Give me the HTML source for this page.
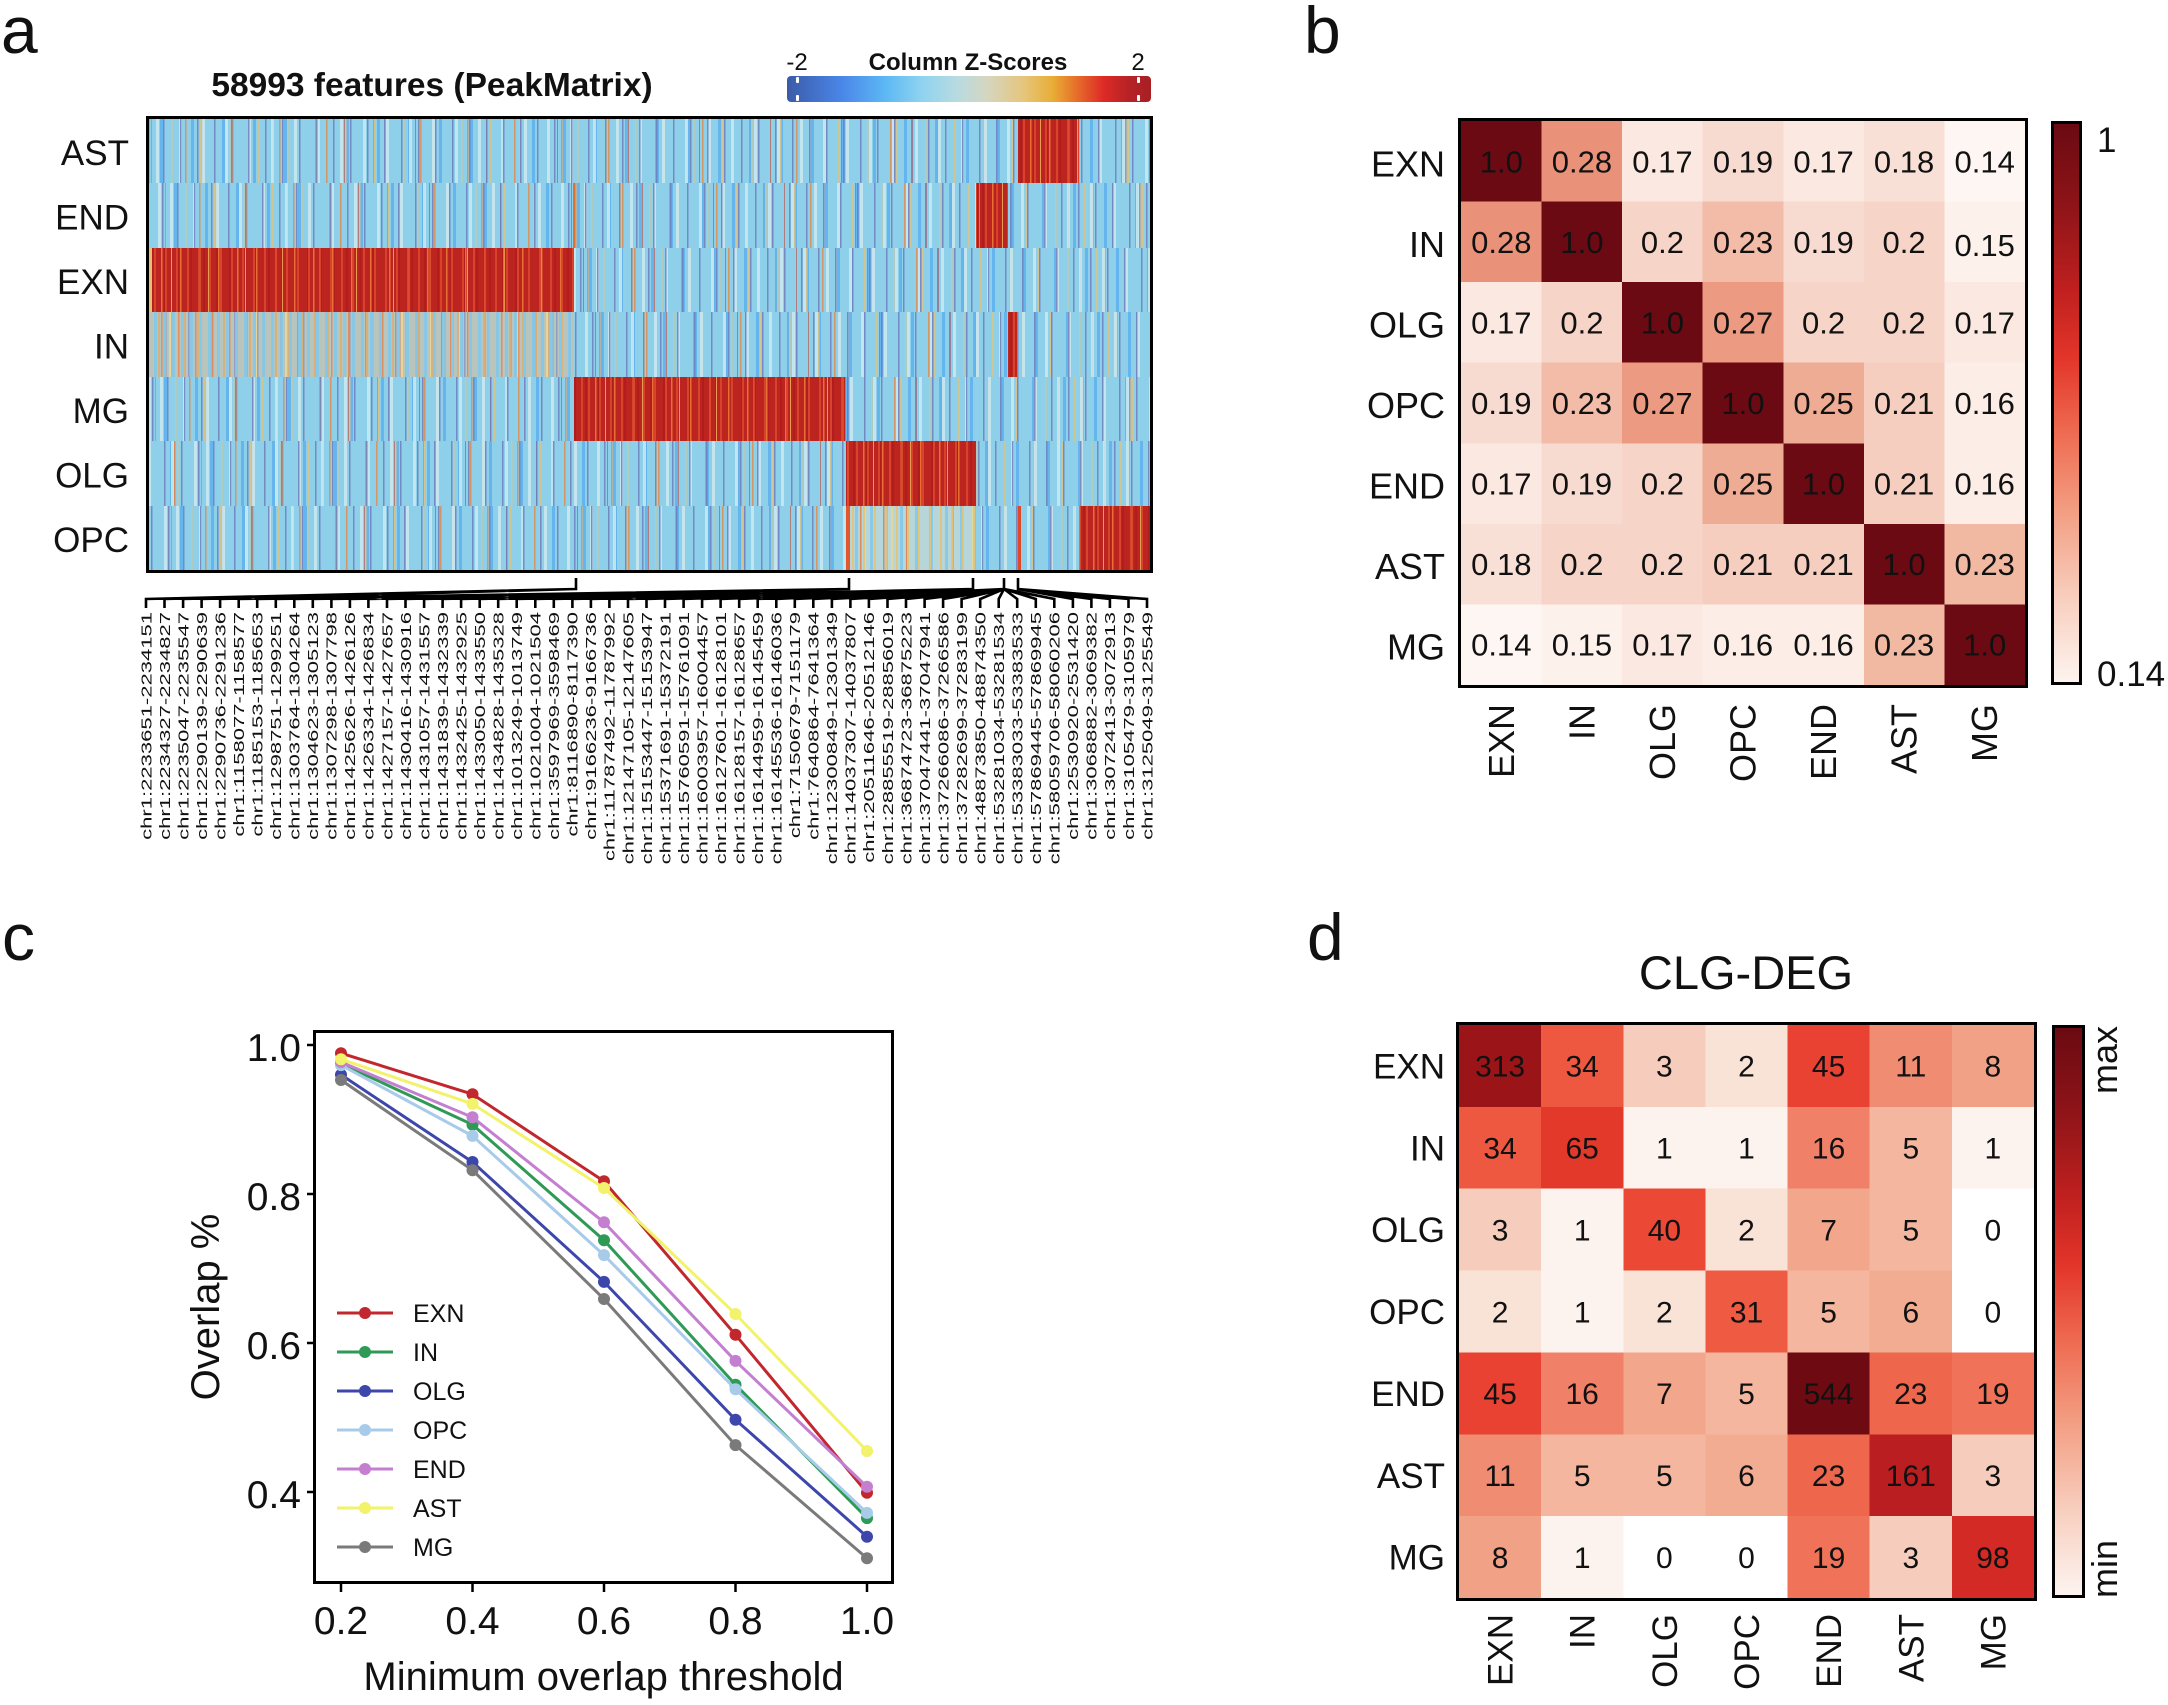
<!DOCTYPE html>
<html><head><meta charset="utf-8"><style>
html,body{margin:0;padding:0;background:#fff}
body{width:2168px;height:1705px;position:relative;overflow:hidden;font-family:"Liberation Sans",Arial,sans-serif}
.hm{position:absolute}
.bl{background-color:#8ecfea;background-image:
repeating-linear-gradient(90deg,transparent 0 11px,rgba(110,125,188,.85) 11px 12.5px,transparent 12.5px 17px),
repeating-linear-gradient(90deg,transparent 0 4px,rgba(200,232,240,.9) 4px 7px,transparent 7px 23px),
repeating-linear-gradient(90deg,transparent 0 19px,rgba(214,196,140,.9) 19px 20.5px,transparent 20.5px 29px),
repeating-linear-gradient(90deg,transparent 0 8px,rgba(96,178,238,.9) 8px 11px,transparent 11px 31px),
repeating-linear-gradient(90deg,transparent 0 33px,rgba(222,140,80,.85) 33px 34.5px,transparent 34.5px 47px),
repeating-linear-gradient(90deg,transparent 0 50px,rgba(190,90,80,.7) 50px 51.2px,transparent 51.2px 71px);}
.rd{background-color:#bc2420;background-image:
repeating-linear-gradient(90deg,transparent 0 5px,rgba(220,70,45,.9) 5px 7px,transparent 7px 11px),
repeating-linear-gradient(90deg,transparent 0 12px,rgba(240,125,55,.85) 12px 13.5px,transparent 13.5px 19px),
repeating-linear-gradient(90deg,transparent 0 22px,rgba(245,185,95,.8) 22px 23px,transparent 23px 37px),
repeating-linear-gradient(90deg,transparent 0 2px,rgba(170,25,25,.6) 2px 4px,transparent 4px 13px);}
.mx{background-color:#b8c4bc;background-image:
repeating-linear-gradient(90deg,transparent 0 5px,rgba(130,200,235,.9) 5px 8px,transparent 8px 9px),
repeating-linear-gradient(90deg,transparent 0 9px,rgba(215,175,120,.9) 9px 11px,transparent 11px 13px),
repeating-linear-gradient(90deg,transparent 0 12px,rgba(228,135,85,.85) 12px 13.5px,transparent 13.5px 17px),
repeating-linear-gradient(90deg,transparent 0 16px,rgba(140,150,195,.85) 16px 17.5px,transparent 17.5px 23px),
repeating-linear-gradient(90deg,transparent 0 20px,rgba(235,215,150,.9) 20px 22px,transparent 22px 29px);}
.my{background-color:#b6d6da;background-image:
repeating-linear-gradient(90deg,transparent 0 6px,rgba(226,196,120,.9) 6px 8px,transparent 8px 11px),
repeating-linear-gradient(90deg,transparent 0 9px,rgba(130,200,236,.9) 9px 12px,transparent 12px 15px),
repeating-linear-gradient(90deg,transparent 0 14px,rgba(226,122,66,.85) 14px 15.5px,transparent 15.5px 23px),
repeating-linear-gradient(90deg,transparent 0 18px,rgba(230,215,150,.9) 18px 20px,transparent 20px 27px);}
.cb{position:absolute;left:787px;top:76px;width:364px;height:26px;border-radius:4px;
background:linear-gradient(90deg,#3b5ba8 0%,#4a86e8 15%,#5cb8f4 27%,#8fd3f0 37%,#b9dbe0 47%,#d5d6c0 55%,#e6c57c 65%,#e8ad35 73%,#e66a2a 80%,#dd2a26 87%,#b52226 94%,#a82024 100%)}
.wt{position:absolute;width:3px;height:6px;background:#fff;border-radius:1px}
svg{position:absolute;left:0;top:0}
</style></head><body>

<!-- Panel a heatmap rows -->
<div class="hm bl" style="left:149px;top:119px;width:1001px;height:64px;background-position:3px 0"></div>
<div class="hm bl" style="left:149px;top:183px;width:1001px;height:65px;background-position:17px 0"></div>
<div class="hm bl" style="left:149px;top:248px;width:1001px;height:64px;background-position:29px 0"></div>
<div class="hm bl" style="left:149px;top:312px;width:1001px;height:65px;background-position:41px 0"></div>
<div class="hm bl" style="left:149px;top:377px;width:1001px;height:64px;background-position:7px 0"></div>
<div class="hm bl" style="left:149px;top:441px;width:1001px;height:65px;background-position:53px 0"></div>
<div class="hm bl" style="left:149px;top:506px;width:1001px;height:64px;background-position:23px 0"></div>

<!-- red blocks -->
<div class="hm rd" style="left:1018px;top:119px;width:61px;height:64px"></div>
<div class="hm rd" style="left:976px;top:183px;width:32px;height:65px;background-position:4px 0"></div>
<div class="hm rd" style="left:149px;top:248px;width:425px;height:64px"></div>
<div class="hm mx" style="left:149px;top:312px;width:425px;height:65px"></div>
<div class="hm rd" style="left:1008px;top:312px;width:9px;height:65px"></div>
<div class="hm rd" style="left:574px;top:377px;width:271px;height:64px;background-position:9px 0"></div>
<div class="hm rd" style="left:846px;top:441px;width:130px;height:65px;background-position:5px 0"></div>
<div class="hm my" style="left:846px;top:506px;width:130px;height:64px"></div>
<div class="hm" style="left:846px;top:506px;width:4px;height:64px;background:#e0582c"></div>
<div class="hm" style="left:1018px;top:506px;width:3px;height:64px;background:#e0482a"></div>
<div class="hm rd" style="left:1079px;top:506px;width:71px;height:64px;background-position:2px 0"></div>
<div class="hm" style="left:149px;top:248px;width:3px;height:64px;background:#e8c070"></div>
<div class="hm" style="left:573px;top:183px;width:2px;height:65px;background:#e07030"></div>

<!-- colorbar a -->
<div class="cb"></div>
<div class="wt" style="left:796px;top:77px"></div>
<div class="wt" style="left:796px;top:95px"></div>
<div class="wt" style="left:1137px;top:77px"></div>
<div class="wt" style="left:1137px;top:95px"></div>

<svg width="2168" height="1705" viewBox="0 0 2168 1705" xmlns="http://www.w3.org/2000/svg" font-family="Liberation Sans, Arial, sans-serif" fill="#111">

<!-- ============ PANEL A ============ -->
<text x="1" y="53" font-size="66">a</text>
<text x="432" y="96" font-size="33.5" font-weight="bold" text-anchor="middle">58993 features (PeakMatrix)</text>
<text x="797" y="70" font-size="24" text-anchor="middle">-2</text>
<text x="968" y="70" font-size="24" font-weight="bold" text-anchor="middle">Column Z-Scores</text>
<text x="1138" y="70" font-size="24" text-anchor="middle">2</text>

<rect x="147.5" y="117.5" width="1004" height="454" fill="none" stroke="#000" stroke-width="3"/>

<g font-size="35" text-anchor="end">
<text x="129" y="165">AST</text>
<text x="129" y="229.5">END</text>
<text x="129" y="294">EXN</text>
<text x="129" y="358.5">IN</text>
<text x="129" y="423">MG</text>
<text x="129" y="487.5">OLG</text>
<text x="129" y="552">OPC</text>
</g>

<path fill="none" stroke="#000" stroke-width="2.6" d="
M576 578V589L146 599V608 M576 589L164.5 599V608 M576 589L183.1 599V608 M576 589L201.6 599V608 M576 589L220.1 599V608
M849 578V589L238.7 599V608 M849 589L257.2 599V608 M849 589L275.8 599V608 M849 589L294.3 599V608 M849 589L312.8 599V608
M849 589L331.4 599V608 M849 589L349.9 599V608 M849 589L368.4 599V608 M849 589L387 599V608 M849 589L405.5 599V608
M849 589L424.1 599V608 M849 589L442.6 599V608 M849 589L461.1 599V608 M849 589L479.7 599V608 M849 589L498.2 599V608
M973 578V589L516.7 599V608 M973 589L535.3 599V608 M973 589L553.8 599V608 M973 589L572.4 599V608 M973 589L590.9 599V608
M973 589L609.4 599V608 M973 589L628 599V608 M973 589L646.5 599V608 M973 589L665 599V608 M973 589L683.6 599V608
M973 589L702.1 599V608 M973 589L720.6 599V608 M973 589L739.2 599V608 M973 589L757.7 599V608 M973 589L776.3 599V608
M1004 578V589L794.8 599V608 M1004 589L813.3 599V608 M1004 589L831.9 599V608 M1004 589L850.4 599V608 M1004 589L868.9 599V608
M1004 589L887.5 599V608 M1004 589L906 599V608 M1004 589L924.6 599V608 M1004 589L943.1 599V608 M1004 589L961.6 599V608
M1004 589L980.2 599V608 M1004 589L998.7 599V608 M1004 589L1017.2 599V608 M1004 589L1035.8 599V608 M1004 589L1054.3 599V608
M1018 578V589L1072.9 599V608 M1018 589L1091.4 599V608 M1018 589L1109.9 599V608 M1018 589L1128.5 599V608 M1018 589L1147 599V608"/>

<g font-size="15" text-anchor="end">
<text transform="translate(151.3 612) rotate(-90) scale(1.47 1)">chr1:2233651-2234151</text>
<text transform="translate(169.8 612) rotate(-90) scale(1.47 1)">chr1:2234327-2234827</text>
<text transform="translate(188.4 612) rotate(-90) scale(1.47 1)">chr1:2235047-2235547</text>
<text transform="translate(206.9 612) rotate(-90) scale(1.47 1)">chr1:2290139-2290639</text>
<text transform="translate(225.4 612) rotate(-90) scale(1.47 1)">chr1:2290736-2291236</text>
<text transform="translate(244.0 612) rotate(-90) scale(1.47 1)">chr1:1158077-1158577</text>
<text transform="translate(262.5 612) rotate(-90) scale(1.47 1)">chr1:1185153-1185653</text>
<text transform="translate(281.1 612) rotate(-90) scale(1.47 1)">chr1:1298751-1299251</text>
<text transform="translate(299.6 612) rotate(-90) scale(1.47 1)">chr1:1303764-1304264</text>
<text transform="translate(318.1 612) rotate(-90) scale(1.47 1)">chr1:1304623-1305123</text>
<text transform="translate(336.7 612) rotate(-90) scale(1.47 1)">chr1:1307298-1307798</text>
<text transform="translate(355.2 612) rotate(-90) scale(1.47 1)">chr1:1425626-1426126</text>
<text transform="translate(373.7 612) rotate(-90) scale(1.47 1)">chr1:1426334-1426834</text>
<text transform="translate(392.3 612) rotate(-90) scale(1.47 1)">chr1:1427157-1427657</text>
<text transform="translate(410.8 612) rotate(-90) scale(1.47 1)">chr1:1430416-1430916</text>
<text transform="translate(429.4 612) rotate(-90) scale(1.47 1)">chr1:1431057-1431557</text>
<text transform="translate(447.9 612) rotate(-90) scale(1.47 1)">chr1:1431839-1432339</text>
<text transform="translate(466.4 612) rotate(-90) scale(1.47 1)">chr1:1432425-1432925</text>
<text transform="translate(485.0 612) rotate(-90) scale(1.47 1)">chr1:1433050-1433550</text>
<text transform="translate(503.5 612) rotate(-90) scale(1.47 1)">chr1:1434828-1435328</text>
<text transform="translate(522.0 612) rotate(-90) scale(1.47 1)">chr1:1013249-1013749</text>
<text transform="translate(540.6 612) rotate(-90) scale(1.47 1)">chr1:1021004-1021504</text>
<text transform="translate(559.1 612) rotate(-90) scale(1.47 1)">chr1:3597969-3598469</text>
<text transform="translate(577.7 612) rotate(-90) scale(1.47 1)">chr1:8116890-8117390</text>
<text transform="translate(596.2 612) rotate(-90) scale(1.47 1)">chr1:9166236-9166736</text>
<text transform="translate(614.7 612) rotate(-90) scale(1.47 1)">chr1:11787492-11787992</text>
<text transform="translate(633.3 612) rotate(-90) scale(1.47 1)">chr1:12147105-12147605</text>
<text transform="translate(651.8 612) rotate(-90) scale(1.47 1)">chr1:15153447-15153947</text>
<text transform="translate(670.3 612) rotate(-90) scale(1.47 1)">chr1:15371691-15372191</text>
<text transform="translate(688.9 612) rotate(-90) scale(1.47 1)">chr1:15760591-15761091</text>
<text transform="translate(707.4 612) rotate(-90) scale(1.47 1)">chr1:16003957-16004457</text>
<text transform="translate(725.9 612) rotate(-90) scale(1.47 1)">chr1:16127601-16128101</text>
<text transform="translate(744.5 612) rotate(-90) scale(1.47 1)">chr1:16128157-16128657</text>
<text transform="translate(763.0 612) rotate(-90) scale(1.47 1)">chr1:16144959-16145459</text>
<text transform="translate(781.6 612) rotate(-90) scale(1.47 1)">chr1:16145536-16146036</text>
<text transform="translate(800.1 612) rotate(-90) scale(1.47 1)">chr1:7150679-7151179</text>
<text transform="translate(818.6 612) rotate(-90) scale(1.47 1)">chr1:7640864-7641364</text>
<text transform="translate(837.2 612) rotate(-90) scale(1.47 1)">chr1:12300849-12301349</text>
<text transform="translate(855.7 612) rotate(-90) scale(1.47 1)">chr1:14037307-14037807</text>
<text transform="translate(874.2 612) rotate(-90) scale(1.47 1)">chr1:20511646-20512146</text>
<text transform="translate(892.8 612) rotate(-90) scale(1.47 1)">chr1:28855519-28856019</text>
<text transform="translate(911.3 612) rotate(-90) scale(1.47 1)">chr1:36874723-36875223</text>
<text transform="translate(929.9 612) rotate(-90) scale(1.47 1)">chr1:37047441-37047941</text>
<text transform="translate(948.4 612) rotate(-90) scale(1.47 1)">chr1:37266086-37266586</text>
<text transform="translate(966.9 612) rotate(-90) scale(1.47 1)">chr1:37282699-37283199</text>
<text transform="translate(985.5 612) rotate(-90) scale(1.47 1)">chr1:48873850-48874350</text>
<text transform="translate(1004.0 612) rotate(-90) scale(1.47 1)">chr1:53281034-53281534</text>
<text transform="translate(1022.5 612) rotate(-90) scale(1.47 1)">chr1:53383033-53383533</text>
<text transform="translate(1041.1 612) rotate(-90) scale(1.47 1)">chr1:57869445-57869945</text>
<text transform="translate(1059.6 612) rotate(-90) scale(1.47 1)">chr1:58059706-58060206</text>
<text transform="translate(1078.2 612) rotate(-90) scale(1.47 1)">chr1:2530920-2531420</text>
<text transform="translate(1096.7 612) rotate(-90) scale(1.47 1)">chr1:3068882-3069382</text>
<text transform="translate(1115.2 612) rotate(-90) scale(1.47 1)">chr1:3072413-3072913</text>
<text transform="translate(1133.8 612) rotate(-90) scale(1.47 1)">chr1:3105479-3105979</text>
<text transform="translate(1152.3 612) rotate(-90) scale(1.47 1)">chr1:3125049-3125549</text>
</g>

<!-- ============ PANEL B ============ -->
<text x="1304" y="53" font-size="66">b</text>
<g shape-rendering="crispEdges">
<rect x="1461" y="121" width="81.2" height="81.2" fill="#6b0a12"/>
<rect x="1541.6" y="121" width="81.2" height="81.2" fill="#ea9279"/>
<rect x="1622.1" y="121" width="81.2" height="81.2" fill="#fbe8e0"/>
<rect x="1702.7" y="121" width="81.2" height="81.2" fill="#f8dbd0"/>
<rect x="1783.3" y="121" width="81.2" height="81.2" fill="#fbe8e0"/>
<rect x="1863.9" y="121" width="81.2" height="81.2" fill="#f9e0d6"/>
<rect x="1944.4" y="121" width="80.6" height="81.2" fill="#fef6f3"/>

<rect x="1461" y="201.6" width="81.2" height="81.2" fill="#ea9279"/>
<rect x="1541.6" y="201.6" width="81.2" height="81.2" fill="#6b0a12"/>
<rect x="1622.1" y="201.6" width="81.2" height="81.2" fill="#f6d4c7"/>
<rect x="1702.7" y="201.6" width="81.2" height="81.2" fill="#f2bca8"/>
<rect x="1783.3" y="201.6" width="81.2" height="81.2" fill="#f8dbd0"/>
<rect x="1863.9" y="201.6" width="81.2" height="81.2" fill="#f6d4c7"/>
<rect x="1944.4" y="201.6" width="80.6" height="81.2" fill="#fdf1ec"/>

<rect x="1461" y="282.1" width="81.2" height="81.2" fill="#fbe8e0"/>
<rect x="1541.6" y="282.1" width="81.2" height="81.2" fill="#f6d4c7"/>
<rect x="1622.1" y="282.1" width="81.2" height="81.2" fill="#6b0a12"/>
<rect x="1702.7" y="282.1" width="81.2" height="81.2" fill="#ec9b82"/>
<rect x="1783.3" y="282.1" width="81.2" height="81.2" fill="#f6d4c7"/>
<rect x="1863.9" y="282.1" width="81.2" height="81.2" fill="#f6d4c7"/>
<rect x="1944.4" y="282.1" width="80.6" height="81.2" fill="#fbe8e0"/>

<rect x="1461" y="362.7" width="81.2" height="81.2" fill="#f8dbd0"/>
<rect x="1541.6" y="362.7" width="81.2" height="81.2" fill="#f2bca8"/>
<rect x="1622.1" y="362.7" width="81.2" height="81.2" fill="#ec9b82"/>
<rect x="1702.7" y="362.7" width="81.2" height="81.2" fill="#6b0a12"/>
<rect x="1783.3" y="362.7" width="81.2" height="81.2" fill="#efac94"/>
<rect x="1863.9" y="362.7" width="81.2" height="81.2" fill="#f5cec0"/>
<rect x="1944.4" y="362.7" width="80.6" height="81.2" fill="#fcede7"/>

<rect x="1461" y="443.3" width="81.2" height="81.2" fill="#fbe8e0"/>
<rect x="1541.6" y="443.3" width="81.2" height="81.2" fill="#f8dbd0"/>
<rect x="1622.1" y="443.3" width="81.2" height="81.2" fill="#f6d4c7"/>
<rect x="1702.7" y="443.3" width="81.2" height="81.2" fill="#efac94"/>
<rect x="1783.3" y="443.3" width="81.2" height="81.2" fill="#6b0a12"/>
<rect x="1863.9" y="443.3" width="81.2" height="81.2" fill="#f5cec0"/>
<rect x="1944.4" y="443.3" width="80.6" height="81.2" fill="#fcede7"/>

<rect x="1461" y="523.9" width="81.2" height="81.2" fill="#f9e0d6"/>
<rect x="1541.6" y="523.9" width="81.2" height="81.2" fill="#f6d4c7"/>
<rect x="1622.1" y="523.9" width="81.2" height="81.2" fill="#f6d4c7"/>
<rect x="1702.7" y="523.9" width="81.2" height="81.2" fill="#f5cec0"/>
<rect x="1783.3" y="523.9" width="81.2" height="81.2" fill="#f5cec0"/>
<rect x="1863.9" y="523.9" width="81.2" height="81.2" fill="#6b0a12"/>
<rect x="1944.4" y="523.9" width="80.6" height="81.2" fill="#f2b9a2"/>

<rect x="1461" y="604.4" width="81.2" height="80.6" fill="#fef6f3"/>
<rect x="1541.6" y="604.4" width="81.2" height="80.6" fill="#fdf1ec"/>
<rect x="1622.1" y="604.4" width="81.2" height="80.6" fill="#fbe8e0"/>
<rect x="1702.7" y="604.4" width="81.2" height="80.6" fill="#fcede7"/>
<rect x="1783.3" y="604.4" width="81.2" height="80.6" fill="#fcede7"/>
<rect x="1863.9" y="604.4" width="81.2" height="80.6" fill="#f2b9a2"/>
<rect x="1944.4" y="604.4" width="80.6" height="80.6" fill="#6b0a12"/>
</g>
<rect x="1459.5" y="119.5" width="567" height="567" fill="none" stroke="#000" stroke-width="3"/>

<g font-size="31" text-anchor="middle">
<text x="1501.3" y="172.3">1.0</text><text x="1581.9" y="172.3">0.28</text><text x="1662.4" y="172.3">0.17</text><text x="1743" y="172.3">0.19</text><text x="1823.6" y="172.3">0.17</text><text x="1904.1" y="172.3">0.18</text><text x="1984.7" y="172.3">0.14</text>
<text x="1501.3" y="252.9">0.28</text><text x="1581.9" y="252.9">1.0</text><text x="1662.4" y="252.9">0.2</text><text x="1743" y="252.9">0.23</text><text x="1823.6" y="252.9">0.19</text><text x="1904.1" y="252.9">0.2</text><text x="1984.7" y="255.9">0.15</text>
<text x="1501.3" y="333.4">0.17</text><text x="1581.9" y="333.4">0.2</text><text x="1662.4" y="333.4">1.0</text><text x="1743" y="333.4">0.27</text><text x="1823.6" y="333.4">0.2</text><text x="1904.1" y="333.4">0.2</text><text x="1984.7" y="333.4">0.17</text>
<text x="1501.3" y="414">0.19</text><text x="1581.9" y="414">0.23</text><text x="1662.4" y="414">0.27</text><text x="1743" y="414">1.0</text><text x="1823.6" y="414">0.25</text><text x="1904.1" y="414">0.21</text><text x="1984.7" y="414">0.16</text>
<text x="1501.3" y="494.6">0.17</text><text x="1581.9" y="494.6">0.19</text><text x="1662.4" y="494.6">0.2</text><text x="1743" y="494.6">0.25</text><text x="1823.6" y="494.6">1.0</text><text x="1904.1" y="494.6">0.21</text><text x="1984.7" y="494.6">0.16</text>
<text x="1501.3" y="575.1">0.18</text><text x="1581.9" y="575.1">0.2</text><text x="1662.4" y="575.1">0.2</text><text x="1743" y="575.1">0.21</text><text x="1823.6" y="575.1">0.21</text><text x="1904.1" y="575.1">1.0</text><text x="1984.7" y="575.1">0.23</text>
<text x="1501.3" y="655.7">0.14</text><text x="1581.9" y="655.7">0.15</text><text x="1662.4" y="655.7">0.17</text><text x="1743" y="655.7">0.16</text><text x="1823.6" y="655.7">0.16</text><text x="1904.1" y="655.7">0.23</text><text x="1984.7" y="655.7">1.0</text>
</g>

<g font-size="36" text-anchor="end">
<text x="1445" y="176.5">EXN</text>
<text x="1445" y="257">IN</text>
<text x="1445" y="337.5">OLG</text>
<text x="1445" y="418">OPC</text>
<text x="1445" y="498.5">END</text>
<text x="1445" y="579">AST</text>
<text x="1445" y="659.5">MG</text>
<text transform="translate(1514 704) rotate(-90)">EXN</text>
<text transform="translate(1594.5 704) rotate(-90)">IN</text>
<text transform="translate(1675 704) rotate(-90)">OLG</text>
<text transform="translate(1755.5 704) rotate(-90)">OPC</text>
<text transform="translate(1836 704) rotate(-90)">END</text>
<text transform="translate(1916.5 704) rotate(-90)">AST</text>
<text transform="translate(1997 704) rotate(-90)">MG</text>
</g>

<defs>
<linearGradient id="reds" x1="0" y1="0" x2="0" y2="1">
<stop offset="0" stop-color="#6a0a12"/>
<stop offset="0.15" stop-color="#8e1418"/>
<stop offset="0.30" stop-color="#c0201f"/>
<stop offset="0.42" stop-color="#e3352a"/>
<stop offset="0.55" stop-color="#ee6a50"/>
<stop offset="0.70" stop-color="#f3a085"/>
<stop offset="0.85" stop-color="#f8cfbf"/>
<stop offset="1" stop-color="#fdf4f0"/>
</linearGradient>
</defs>
<rect x="2052.5" y="122.5" width="28" height="561" fill="url(#reds)" stroke="#000" stroke-width="3"/>
<text x="2097" y="152" font-size="35">1</text>
<text x="2097" y="686" font-size="35">0.14</text>

<!-- ============ PANEL C ============ -->
<text x="2" y="960" font-size="66">c</text>
<rect x="314.5" y="1031.5" width="578" height="551" fill="none" stroke="#000" stroke-width="3"/>
<g stroke="#000" stroke-width="2.5">
<line x1="307" y1="1045" x2="313" y2="1045"/>
<line x1="307" y1="1194" x2="313" y2="1194"/>
<line x1="307" y1="1343" x2="313" y2="1343"/>
<line x1="307" y1="1492" x2="313" y2="1492"/>
<line x1="341" y1="1584" x2="341" y2="1592"/>
<line x1="472.5" y1="1584" x2="472.5" y2="1592"/>
<line x1="604" y1="1584" x2="604" y2="1592"/>
<line x1="735.5" y1="1584" x2="735.5" y2="1592"/>
<line x1="867" y1="1584" x2="867" y2="1592"/>
</g>
<g font-size="39" text-anchor="end">
<text x="301" y="1061">1.0</text>
<text x="301" y="1210">0.8</text>
<text x="301" y="1359">0.6</text>
<text x="301" y="1508">0.4</text>
</g>
<g font-size="39" text-anchor="middle">
<text x="341" y="1634">0.2</text>
<text x="472.5" y="1634">0.4</text>
<text x="604" y="1634">0.6</text>
<text x="735.5" y="1634">0.8</text>
<text x="867" y="1634">1.0</text>
</g>
<text x="603.5" y="1690" font-size="40" text-anchor="middle">Minimum overlap threshold</text>
<text transform="translate(219 1307) rotate(-90)" font-size="40" text-anchor="middle">Overlap %</text>

<polyline fill="none" stroke-width="3" stroke-linejoin="round" stroke="#c1272d" points="341,1053.2 472.5,1094.2 604,1181.3 735.5,1334.8 867,1492.7"/>
<g fill="#c1272d"><circle cx="341" cy="1053.2" r="6"/><circle cx="472.5" cy="1094.2" r="6"/><circle cx="604" cy="1181.3" r="6"/><circle cx="735.5" cy="1334.8" r="6"/><circle cx="867" cy="1492.7" r="6"/></g>
<polyline fill="none" stroke-width="3" stroke="#2f9a56" points="341,1063.6 472.5,1124.7 604,1240.2 735.5,1384.7 867,1518.1"/>
<g fill="#2f9a56"><circle cx="341" cy="1063.6" r="6"/><circle cx="472.5" cy="1124.7" r="6"/><circle cx="604" cy="1240.2" r="6"/><circle cx="735.5" cy="1384.7" r="6"/><circle cx="867" cy="1518.1" r="6"/></g>
<polyline fill="none" stroke-width="3" stroke="#3d46aa" points="341,1074.8 472.5,1162 604,1281.9 735.5,1419.7 867,1536.7"/>
<g fill="#3d46aa"><circle cx="341" cy="1074.8" r="6"/><circle cx="472.5" cy="1162" r="6"/><circle cx="604" cy="1281.9" r="6"/><circle cx="735.5" cy="1419.7" r="6"/><circle cx="867" cy="1536.7" r="6"/></g>
<polyline fill="none" stroke-width="3" stroke="#a8cbea" points="341,1065.1 472.5,1135.9 604,1255.1 735.5,1389.2 867,1512.9"/>
<g fill="#a8cbea"><circle cx="341" cy="1065.1" r="6"/><circle cx="472.5" cy="1135.9" r="6"/><circle cx="604" cy="1255.1" r="6"/><circle cx="735.5" cy="1389.2" r="6"/><circle cx="867" cy="1512.9" r="6"/></g>
<polyline fill="none" stroke-width="3" stroke="#c47fd0" points="341,1062.1 472.5,1117.3 604,1222.3 735.5,1360.9 867,1486.8"/>
<g fill="#c47fd0"><circle cx="341" cy="1062.1" r="6"/><circle cx="472.5" cy="1117.3" r="6"/><circle cx="604" cy="1222.3" r="6"/><circle cx="735.5" cy="1360.9" r="6"/><circle cx="867" cy="1486.8" r="6"/></g>
<polyline fill="none" stroke-width="3" stroke="#f2f26b" points="341,1059.2 472.5,1103.9 604,1188 735.5,1314 867,1451"/>
<g fill="#f2f26b"><circle cx="341" cy="1059.2" r="6"/><circle cx="472.5" cy="1103.9" r="6"/><circle cx="604" cy="1188" r="6"/><circle cx="735.5" cy="1314" r="6"/><circle cx="867" cy="1451" r="6"/></g>
<polyline fill="none" stroke-width="3" stroke="#7a7a7a" points="341,1080 472.5,1170.2 604,1299 735.5,1445.1 867,1558.3"/>
<g fill="#7a7a7a"><circle cx="341" cy="1080" r="6"/><circle cx="472.5" cy="1170.2" r="6"/><circle cx="604" cy="1299" r="6"/><circle cx="735.5" cy="1445.1" r="6"/><circle cx="867" cy="1558.3" r="6"/></g>

<!-- legend -->
<g stroke-width="3">
<line x1="337" y1="1313" x2="393" y2="1313" stroke="#c1272d"/>
<line x1="337" y1="1352" x2="393" y2="1352" stroke="#2f9a56"/>
<line x1="337" y1="1391" x2="393" y2="1391" stroke="#3d46aa"/>
<line x1="337" y1="1430" x2="393" y2="1430" stroke="#a8cbea"/>
<line x1="337" y1="1469" x2="393" y2="1469" stroke="#c47fd0"/>
<line x1="337" y1="1508" x2="393" y2="1508" stroke="#f2f26b"/>
<line x1="337" y1="1547" x2="393" y2="1547" stroke="#7a7a7a"/>
</g>
<circle cx="365" cy="1313" r="6" fill="#c1272d"/>
<circle cx="365" cy="1352" r="6" fill="#2f9a56"/>
<circle cx="365" cy="1391" r="6" fill="#3d46aa"/>
<circle cx="365" cy="1430" r="6" fill="#a8cbea"/>
<circle cx="365" cy="1469" r="6" fill="#c47fd0"/>
<circle cx="365" cy="1508" r="6" fill="#f2f26b"/>
<circle cx="365" cy="1547" r="6" fill="#7a7a7a"/>
<g font-size="25">
<text x="413" y="1322">EXN</text>
<text x="413" y="1361">IN</text>
<text x="413" y="1400">OLG</text>
<text x="413" y="1439">OPC</text>
<text x="413" y="1478">END</text>
<text x="413" y="1517">AST</text>
<text x="413" y="1556">MG</text>
</g>

<!-- ============ PANEL D ============ -->
<text x="1307" y="960" font-size="66">d</text>
<text x="1746" y="989" font-size="47" text-anchor="middle">CLG-DEG</text>
<g shape-rendering="crispEdges">
<rect x="1459" y="1025" width="82.8" height="82.5" fill="#9b1518"/>
<rect x="1541.1" y="1025" width="82.8" height="82.5" fill="#ee5840"/>
<rect x="1623.3" y="1025" width="82.8" height="82.5" fill="#f6cdbc"/>
<rect x="1705.4" y="1025" width="82.8" height="82.5" fill="#f9e2d6"/>
<rect x="1787.6" y="1025" width="82.8" height="82.5" fill="#ea4232"/>
<rect x="1869.7" y="1025" width="82.8" height="82.5" fill="#ef8c71"/>
<rect x="1951.9" y="1025" width="82.1" height="82.5" fill="#f1a185"/>

<rect x="1459" y="1106.9" width="82.8" height="82.5" fill="#ee5840"/>
<rect x="1541.1" y="1106.9" width="82.8" height="82.5" fill="#e2392b"/>
<rect x="1623.3" y="1106.9" width="82.8" height="82.5" fill="#fdf3ee"/>
<rect x="1705.4" y="1106.9" width="82.8" height="82.5" fill="#fdf3ee"/>
<rect x="1787.6" y="1106.9" width="82.8" height="82.5" fill="#f08068"/>
<rect x="1869.7" y="1106.9" width="82.8" height="82.5" fill="#f4b69e"/>
<rect x="1951.9" y="1106.9" width="82.1" height="82.5" fill="#fdf3ee"/>

<rect x="1459" y="1188.7" width="82.8" height="82.5" fill="#f6cdbc"/>
<rect x="1541.1" y="1188.7" width="82.8" height="82.5" fill="#fdf3ee"/>
<rect x="1623.3" y="1188.7" width="82.8" height="82.5" fill="#ec4836"/>
<rect x="1705.4" y="1188.7" width="82.8" height="82.5" fill="#f9e2d6"/>
<rect x="1787.6" y="1188.7" width="82.8" height="82.5" fill="#f2a68b"/>
<rect x="1869.7" y="1188.7" width="82.8" height="82.5" fill="#f4b69e"/>
<rect x="1951.9" y="1188.7" width="82.1" height="82.5" fill="#ffffff"/>

<rect x="1459" y="1270.6" width="82.8" height="82.5" fill="#f9e2d6"/>
<rect x="1541.1" y="1270.6" width="82.8" height="82.5" fill="#fdf3ee"/>
<rect x="1623.3" y="1270.6" width="82.8" height="82.5" fill="#f9e2d6"/>
<rect x="1705.4" y="1270.6" width="82.8" height="82.5" fill="#ee5a42"/>
<rect x="1787.6" y="1270.6" width="82.8" height="82.5" fill="#f4b69e"/>
<rect x="1869.7" y="1270.6" width="82.8" height="82.5" fill="#f2ac91"/>
<rect x="1951.9" y="1270.6" width="82.1" height="82.5" fill="#ffffff"/>

<rect x="1459" y="1352.4" width="82.8" height="82.5" fill="#ea4232"/>
<rect x="1541.1" y="1352.4" width="82.8" height="82.5" fill="#f08068"/>
<rect x="1623.3" y="1352.4" width="82.8" height="82.5" fill="#f2a68b"/>
<rect x="1705.4" y="1352.4" width="82.8" height="82.5" fill="#f4b69e"/>
<rect x="1787.6" y="1352.4" width="82.8" height="82.5" fill="#6e0b12"/>
<rect x="1869.7" y="1352.4" width="82.8" height="82.5" fill="#ee674d"/>
<rect x="1951.9" y="1352.4" width="82.1" height="82.5" fill="#ef7259"/>

<rect x="1459" y="1434.3" width="82.8" height="82.5" fill="#ef8c71"/>
<rect x="1541.1" y="1434.3" width="82.8" height="82.5" fill="#f4b69e"/>
<rect x="1623.3" y="1434.3" width="82.8" height="82.5" fill="#f4b69e"/>
<rect x="1705.4" y="1434.3" width="82.8" height="82.5" fill="#f2ac91"/>
<rect x="1787.6" y="1434.3" width="82.8" height="82.5" fill="#ee674d"/>
<rect x="1869.7" y="1434.3" width="82.8" height="82.5" fill="#ba1e20"/>
<rect x="1951.9" y="1434.3" width="82.1" height="82.5" fill="#f6cdbc"/>

<rect x="1459" y="1516.1" width="82.8" height="81.9" fill="#f1a185"/>
<rect x="1541.1" y="1516.1" width="82.8" height="81.9" fill="#fdf3ee"/>
<rect x="1623.3" y="1516.1" width="82.8" height="81.9" fill="#ffffff"/>
<rect x="1705.4" y="1516.1" width="82.8" height="81.9" fill="#ffffff"/>
<rect x="1787.6" y="1516.1" width="82.8" height="81.9" fill="#ef7259"/>
<rect x="1869.7" y="1516.1" width="82.8" height="81.9" fill="#f6cdbc"/>
<rect x="1951.9" y="1516.1" width="82.1" height="81.9" fill="#d42a25"/>
</g>
<rect x="1457.5" y="1023.5" width="578" height="576" fill="none" stroke="#000" stroke-width="3"/>

<g font-size="30" text-anchor="middle">
<text x="1500.1" y="1076.7">313</text><text x="1582.2" y="1076.7">34</text><text x="1664.4" y="1076.7">3</text><text x="1746.5" y="1076.7">2</text><text x="1828.6" y="1076.7">45</text><text x="1910.8" y="1076.7">11</text><text x="1992.9" y="1076.7">8</text>
<text x="1500.1" y="1158.6">34</text><text x="1582.2" y="1158.6">65</text><text x="1664.4" y="1158.6">1</text><text x="1746.5" y="1158.6">1</text><text x="1828.6" y="1158.6">16</text><text x="1910.8" y="1158.6">5</text><text x="1992.9" y="1158.6">1</text>
<text x="1500.1" y="1240.4">3</text><text x="1582.2" y="1240.4">1</text><text x="1664.4" y="1240.4">40</text><text x="1746.5" y="1240.4">2</text><text x="1828.6" y="1240.4">7</text><text x="1910.8" y="1240.4">5</text><text x="1992.9" y="1240.4">0</text>
<text x="1500.1" y="1322.3">2</text><text x="1582.2" y="1322.3">1</text><text x="1664.4" y="1322.3">2</text><text x="1746.5" y="1322.3">31</text><text x="1828.6" y="1322.3">5</text><text x="1910.8" y="1322.3">6</text><text x="1992.9" y="1322.3">0</text>
<text x="1500.1" y="1404.2">45</text><text x="1582.2" y="1404.2">16</text><text x="1664.4" y="1404.2">7</text><text x="1746.5" y="1404.2">5</text><text x="1828.6" y="1404.2">544</text><text x="1910.8" y="1404.2">23</text><text x="1992.9" y="1404.2">19</text>
<text x="1500.1" y="1486.1">11</text><text x="1582.2" y="1486.1">5</text><text x="1664.4" y="1486.1">5</text><text x="1746.5" y="1486.1">6</text><text x="1828.6" y="1486.1">23</text><text x="1910.8" y="1486.1">161</text><text x="1992.9" y="1486.1">3</text>
<text x="1500.1" y="1567.9">8</text><text x="1582.2" y="1567.9">1</text><text x="1664.4" y="1567.9">0</text><text x="1746.5" y="1567.9">0</text><text x="1828.6" y="1567.9">19</text><text x="1910.8" y="1567.9">3</text><text x="1992.9" y="1567.9">98</text>
</g>

<g font-size="35" text-anchor="end">
<text x="1445" y="1078.4">EXN</text>
<text x="1445" y="1160.3">IN</text>
<text x="1445" y="1242.1">OLG</text>
<text x="1445" y="1324">OPC</text>
<text x="1445" y="1405.9">END</text>
<text x="1445" y="1487.8">AST</text>
<text x="1445" y="1569.6">MG</text>
<text transform="translate(1512.6 1614) rotate(-90)">EXN</text>
<text transform="translate(1594.7 1614) rotate(-90)">IN</text>
<text transform="translate(1676.9 1614) rotate(-90)">OLG</text>
<text transform="translate(1759 1614) rotate(-90)">OPC</text>
<text transform="translate(1841.1 1614) rotate(-90)">END</text>
<text transform="translate(1923.3 1614) rotate(-90)">AST</text>
<text transform="translate(2005.4 1614) rotate(-90)">MG</text>
</g>

<rect x="2053.5" y="1026.5" width="30" height="570" fill="url(#reds)" stroke="#000" stroke-width="3"/>
<text transform="translate(2117 1026) rotate(-90)" font-size="36" text-anchor="end">max</text>
<text transform="translate(2117 1598) rotate(-90)" font-size="36" text-anchor="start">min</text>
</svg>
</body></html>
